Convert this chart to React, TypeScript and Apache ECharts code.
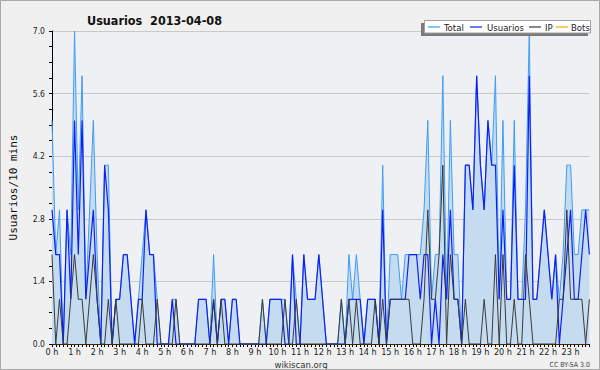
import React, { useEffect, useRef } from "react";
import * as echarts from "echarts";

const hourLabels = ["0 h","1 h","2 h","3 h","4 h","5 h","6 h","7 h","8 h","9 h","10 h","11 h","12 h","13 h","14 h","15 h","16 h","17 h","18 h","19 h","20 h","21 h","22 h","23 h"];

const total = [
  5,2,3,0,3,2,7,3,6,1,
  3,5,2,0,4,4,0,1,1,2,
  2,1,0,1,2,3,2,2,1,0,
  0,0,1,1,0,0,0,0,0,1,
  1,1,0,2,0,1,1,0,1,1,
  0,0,0,0,0,0,1,0,1,1,
  1,1,1,0,2,1,0,2,1,1,
  1,2,1,0,0,0,0,1,0,2,
  1,2,1,0,1,1,1,0,4,0,
  2,2,2,1,2,2,2,2,2,3,
  5,1,2,2,6,1,5,2,2,0,
  4,4,3,6,4,3,5,4,6,1,
  5,1,1,5,1,1,3,7,1,1,
  2,3,2,1,2,1,2,4,4,2,
  2,3,3,3
];

const usuarios = [
  3,2,2,0,3,1,5,2,5,1,
  2,3,1,0,4,3,0,1,1,2,
  2,1,0,1,1,3,2,2,0,0,
  0,0,1,0,0,0,0,0,0,1,
  1,1,0,1,0,1,1,0,1,1,
  0,0,0,0,0,0,0,0,1,1,
  1,1,0,0,2,0,0,2,1,1,
  1,2,1,0,0,0,0,0,0,1,
  1,1,1,0,1,1,1,0,3,0,
  1,1,1,1,1,2,2,2,1,2,
  2,0,1,0,2,1,3,1,1,0,
  4,4,3,6,4,3,5,4,4,1,
  3,1,1,4,1,1,1,6,1,1,
  2,3,2,1,2,0,1,2,3,1,
  1,2,3,2
];

const ip = [
  2,0,1,0,0,1,2,1,1,0,
  1,2,1,0,0,1,0,1,0,0,
  0,0,0,0,1,0,0,0,1,0,
  0,0,0,1,0,0,0,0,0,0,
  0,0,0,1,0,1,0,0,0,0,
  0,0,0,0,0,0,1,0,0,0,
  0,0,1,0,0,1,0,0,0,0,
  0,0,0,0,0,0,0,1,0,1,
  0,1,0,0,0,0,1,0,1,0,
  1,1,1,1,1,1,0,0,0,1,
  3,1,1,2,4,0,2,1,1,0,
  1,0,0,0,0,1,0,0,2,0,
  2,0,0,1,0,0,2,1,0,0,
  0,0,0,0,0,1,1,3,1,1,
  1,1,0,1
];

const bots = [
  0,0,0,0,0,0,0,0,0,0,
  0,0,0,0,0,0,0,0,0,0,
  0,0,0,0,0,0,0,0,0,0,
  0,0,0,0,0,0,0,0,0,0,
  0,0,0,0,0,0,0,0,0,0,
  0,0,0,0,0,0,0,0,0,0,
  0,0,0,0,0,0,0,0,0,0,
  0,0,0,0,0,0,0,0,0,0,
  0,0,0,0,0,0,0,0,0,0,
  0,0,0,0,0,0,0,0,0,0,
  0,0,0,0,0,0,0,0,0,0,
  0,0,0,0,0,0,0,0,0,0,
  0,0,0,0,0,0,0,0,0,0,
  0,0,0,0,0,0,0,0,0,0,
  0,0,0,0
];

const FONT = "'DejaVu Sans Condensed', 'DejaVu Sans', sans-serif";
const C_TOTAL = "#3d9cf5";
const C_USER = "#1020f0";
const C_IP = "#3a3a3a";
const C_BOTS = "#ffa500";

export default function App() {
  const ref = useRef<HTMLDivElement>(null);
  useEffect(() => {
    if (!ref.current) return;
    const chart = echarts.init(ref.current, null, { renderer: "svg" });
    const categories: string[] = [];
    hourLabels.forEach((h) => {
      categories.push(h);
      for (let k = 0; k < 5; k++) categories.push("");
    });
    const legendItems = [
      { name: "Total", color: C_TOTAL, lx: 428, tx: 444 },
      { name: "Usuarios", color: C_USER, lx: 470, tx: 487 },
      { name: "IP", color: C_IP, lx: 529, tx: 545 },
      { name: "Bots", color: C_BOTS, lx: 556, tx: 571 },
    ];
    const legendEls: any[] = [
      { type: "rect", shape: { x: 421, y: 23, width: 167, height: 13 }, style: { fill: "#7a7a7a" }, z: 100 },
      { type: "rect", shape: { x: 424.5, y: 20.5, width: 166, height: 12.5 }, style: { fill: "#ffffff", stroke: "#a0a0a0", lineWidth: 1 }, z: 101 },
    ];
    legendItems.forEach((it) => {
      legendEls.push({ type: "line", shape: { x1: it.lx, y1: 27, x2: it.lx + 12, y2: 27 }, style: { stroke: it.color, lineWidth: 1.2 }, z: 102 });
      legendEls.push({ type: "text", x: it.tx, y: 27, style: { text: it.name, fill: "#222", font: `9.5px ${FONT}`, textVerticalAlign: "middle", verticalAlign: "middle" }, z: 102 });
    });
    chart.setOption({
      animation: false,
      backgroundColor: "#f0f0f0",
      title: {
        text: "Usuarios  2013-04-08",
        left: 82,
        top: 9,
        textStyle: { fontFamily: FONT, fontSize: 12.5, fontWeight: "bold", color: "#111" },
      },
      grid: { left: 46, right: 10.6, top: 31, bottom: 26, show: true, backgroundColor: "#eef0f3", borderWidth: 0 },
      xAxis: {
        type: "category",
        boundaryGap: false,
        data: categories,
        axisLine: { lineStyle: { color: "#000", width: 1 } },
        axisTick: { show: true, interval: 0, length: 3, lineStyle: { color: "#000" } },
        axisLabel: { interval: 0, fontSize: 9, fontFamily: FONT, color: "#222", margin: 3 },
        splitLine: { show: false },
      },
      yAxis: {
        type: "value",
        min: 0,
        max: 7,
        interval: 1.4,
        name: "Usuarios/10 mins",
        nameLocation: "middle",
        nameGap: 33,
        nameRotate: 90,
        nameTextStyle: { fontFamily: "'DejaVu Sans Mono', monospace", fontSize: 11, color: "#111" },
        axisLine: { show: true, lineStyle: { color: "#000", width: 1 } },
        axisTick: { show: true, length: 3, lineStyle: { color: "#000" } },
        minorTick: { show: true, splitNumber: 4, length: 3, lineStyle: { color: "#000" } },
        axisLabel: { fontSize: 8.5, fontFamily: FONT, color: "#222", margin: 7, formatter: (v: number) => v.toFixed(1) },
        splitLine: { show: true, lineStyle: { color: "#c8c8c8", width: 1 } },
      },
      series: [
        { name: "Bots", type: "line", data: bots, showSymbol: false, symbol: "none", lineStyle: { color: C_BOTS, width: 1 }, z: 1 },
        { name: "Total", type: "line", data: total, showSymbol: false, symbol: "none", lineStyle: { color: C_TOTAL, width: 1 }, areaStyle: { color: "#c5dcf0", opacity: 1 }, z: 2 },
        { name: "Usuarios", type: "line", data: usuarios, showSymbol: false, symbol: "none", lineStyle: { color: C_USER, width: 1.2 }, z: 3 },
        { name: "IP", type: "line", data: ip, showSymbol: false, symbol: "none", lineStyle: { color: C_IP, width: 1 }, z: 4 },
      ],
      graphic: [
        { type: "rect", shape: { x: 0.5, y: 0.5, width: 599, height: 369 }, style: { fill: "none", stroke: "#a8a8a8", lineWidth: 1 }, z: 200, silent: true },
        ...legendEls,
        { type: "text", x: 301, y: 364, style: { text: "wikiscan.org", fill: "#333", font: `9.5px ${FONT}`, textAlign: "center", textVerticalAlign: "middle", verticalAlign: "middle", align: "center" } },
        { type: "text", x: 590, y: 365, style: { text: "CC BY-SA 3.0", fill: "#444", font: `7px ${FONT}`, textAlign: "right", align: "right", textVerticalAlign: "middle", verticalAlign: "middle" } },
      ],
    });
    return () => chart.dispose();
  }, []);
  return <div ref={ref} style={{ position: "fixed", left: 0, top: 0, width: 600, height: 370 }} />;
}
